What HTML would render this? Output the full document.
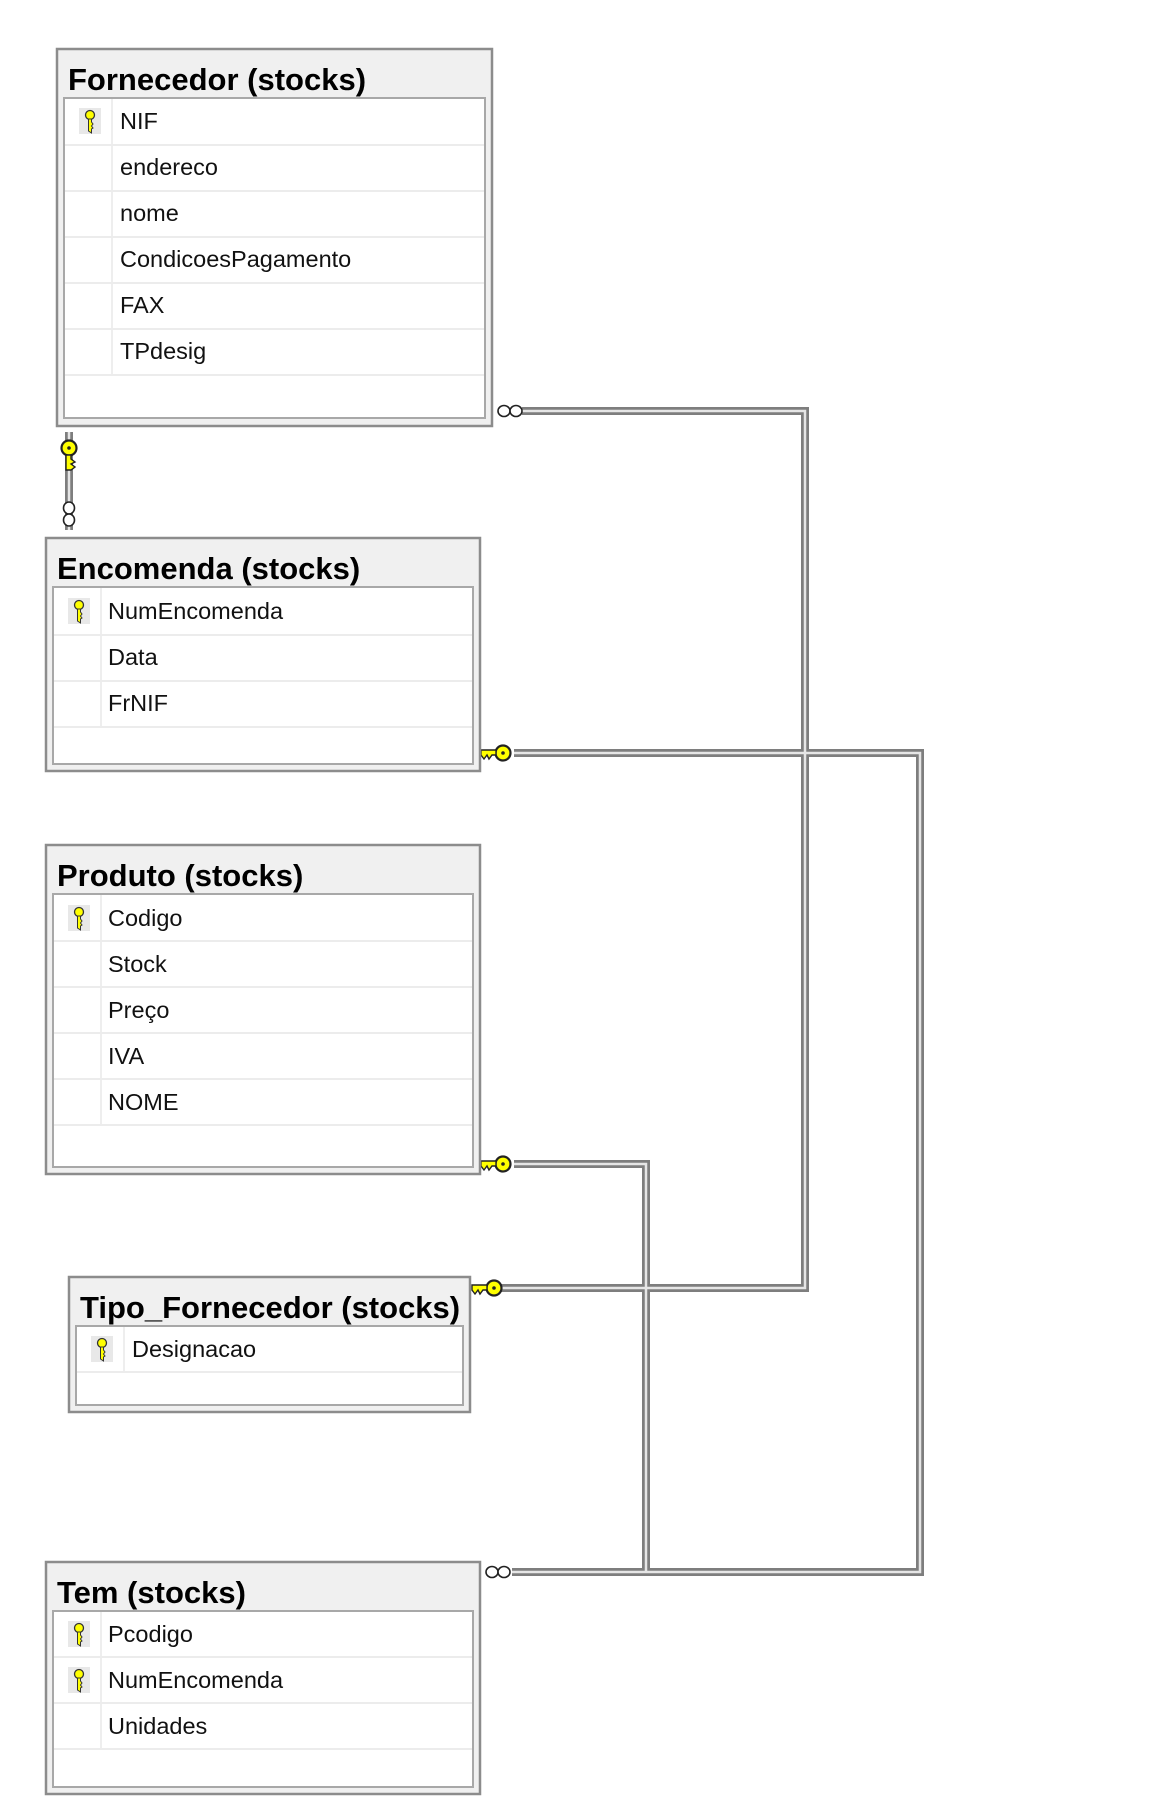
<!DOCTYPE html>
<html><head><meta charset="utf-8"><style>
html,body{margin:0;padding:0;background:#fff;}
svg{display:block;}
.t{font-family:"Liberation Sans",sans-serif;font-weight:bold;font-size:31px;fill:#000;}
.r{font-family:"Liberation Sans",sans-serif;font-size:23.5px;fill:#111;}
</style></head><body>
<svg width="1158" height="1798" viewBox="0 0 1158 1798" xmlns="http://www.w3.org/2000/svg">
<defs>
<g id="pk">
  <rect x="-11" y="-13" width="22" height="26" fill="#e8e8e8"/>
  <circle cx="0" cy="-6" r="4.5" fill="#ffff00" stroke="#333" stroke-width="1.3"/>
  <path d="M-1.5,-2 L-1.5,10 L1.5,12 L1.5,8 L3,7 L1.5,5 L3,3 L1.5,1 L1.5,-2Z" fill="#ffff00" stroke="#333" stroke-width="1"/>
</g>
<g id="hk">
  <circle cx="0" cy="0" r="7.5" fill="#ffff00" stroke="#222" stroke-width="2.2"/>
  <circle cx="0" cy="0" r="1.8" fill="#222"/>
  <path d="M-7,-3 L-22,-3 L-22,2 L-19,6 L-16,2 L-14,6 L-11,2 L-7,2Z" fill="#ffff00" stroke="#222" stroke-width="1.4"/>
</g>
<g id="inf">
  <ellipse cx="-6" cy="0" rx="6" ry="5.5" fill="#fff" stroke="#222" stroke-width="1.6"/>
  <ellipse cx="6" cy="0" rx="6" ry="5.5" fill="#fff" stroke="#222" stroke-width="1.6"/>
</g>
</defs>

<g fill="none" stroke-linejoin="miter">
  <g stroke="#7e7e7e" stroke-width="8">
    <polyline points="69,432 69,530"/>
    <polyline points="522,411 805,411 805,1288 500,1288"/>
    <polyline points="514,753 920,753 920,1572 512,1572"/>
    <polyline points="514,1164 646,1164 646,1572"/>
  </g>
  <g stroke="#e6e6e6" stroke-width="2.5">
    <polyline points="69,432 69,530"/>
    <polyline points="522,411 805,411 805,1288 500,1288"/>
    <polyline points="514,753 920,753 920,1572 512,1572"/>
    <polyline points="514,1164 646,1164 646,1572"/>
  </g>
</g>
<use href="#inf" x="510" y="411"/>
<use href="#inf" x="498" y="1572"/>
<g transform="translate(69,514) rotate(90)"><use href="#inf"/></g>
<g transform="translate(69,448) rotate(-90)"><use href="#hk"/></g>
<use href="#hk" x="503" y="753"/>
<use href="#hk" x="503" y="1164"/>
<use href="#hk" x="494" y="1288"/>

<!-- Fornecedor -->
<rect x="57" y="49" width="435" height="377" fill="#f0f0f0" stroke="#8c8c8c" stroke-width="2.5"/>
<rect x="64" y="98" width="421" height="320" fill="#fff" stroke="#a8a8a8" stroke-width="2"/>
<line x1="112" y1="99" x2="112" y2="375" stroke="#eee" stroke-width="2"/>
<g stroke="#ececec" stroke-width="2">
<line x1="65" y1="145" x2="484" y2="145"/><line x1="65" y1="191" x2="484" y2="191"/><line x1="65" y1="237" x2="484" y2="237"/><line x1="65" y1="283" x2="484" y2="283"/><line x1="65" y1="329" x2="484" y2="329"/><line x1="65" y1="375" x2="484" y2="375"/>
</g>
<text class="t" x="68" y="90">Fornecedor (stocks)</text>
<use href="#pk" x="90" y="121"/>
<text class="r" x="120" y="129">NIF</text>
<text class="r" x="120" y="175">endereco</text>
<text class="r" x="120" y="221">nome</text>
<text class="r" x="120" y="267">CondicoesPagamento</text>
<text class="r" x="120" y="313">FAX</text>
<text class="r" x="120" y="359">TPdesig</text>

<!-- Encomenda -->
<rect x="46" y="538" width="434" height="233" fill="#f0f0f0" stroke="#8c8c8c" stroke-width="2.5"/>
<rect x="53" y="587" width="420" height="177" fill="#fff" stroke="#a8a8a8" stroke-width="2"/>
<line x1="101" y1="588" x2="101" y2="727" stroke="#eee" stroke-width="2"/>
<g stroke="#ececec" stroke-width="2">
<line x1="54" y1="635" x2="472" y2="635"/><line x1="54" y1="681" x2="472" y2="681"/><line x1="54" y1="727" x2="472" y2="727"/>
</g>
<text class="t" x="57" y="579">Encomenda (stocks)</text>
<use href="#pk" x="79" y="611"/>
<text class="r" x="108" y="619">NumEncomenda</text>
<text class="r" x="108" y="665">Data</text>
<text class="r" x="108" y="711">FrNIF</text>

<!-- Produto -->
<rect x="46" y="845" width="434" height="329" fill="#f0f0f0" stroke="#8c8c8c" stroke-width="2.5"/>
<rect x="53" y="894" width="420" height="273" fill="#fff" stroke="#a8a8a8" stroke-width="2"/>
<line x1="101" y1="895" x2="101" y2="1125" stroke="#eee" stroke-width="2"/>
<g stroke="#ececec" stroke-width="2">
<line x1="54" y1="941" x2="472" y2="941"/><line x1="54" y1="987" x2="472" y2="987"/><line x1="54" y1="1033" x2="472" y2="1033"/><line x1="54" y1="1079" x2="472" y2="1079"/><line x1="54" y1="1125" x2="472" y2="1125"/>
</g>
<text class="t" x="57" y="886">Produto (stocks)</text>
<use href="#pk" x="79" y="918"/>
<text class="r" x="108" y="926">Codigo</text>
<text class="r" x="108" y="972">Stock</text>
<text class="r" x="108" y="1018">Preço</text>
<text class="r" x="108" y="1064">IVA</text>
<text class="r" x="108" y="1110">NOME</text>

<!-- Tipo_Fornecedor -->
<rect x="69" y="1277" width="401" height="135" fill="#f0f0f0" stroke="#8c8c8c" stroke-width="2.5"/>
<rect x="76" y="1326" width="387" height="79" fill="#fff" stroke="#a8a8a8" stroke-width="2"/>
<line x1="124" y1="1327" x2="124" y2="1372" stroke="#eee" stroke-width="2"/>
<line x1="77" y1="1372" x2="462" y2="1372" stroke="#ececec" stroke-width="2"/>
<text class="t" x="80" y="1318">Tipo_Fornecedor (stocks)</text>
<use href="#pk" x="102" y="1349"/>
<text class="r" x="132" y="1357">Designacao</text>

<!-- Tem -->
<rect x="46" y="1562" width="434" height="232" fill="#f0f0f0" stroke="#8c8c8c" stroke-width="2.5"/>
<rect x="53" y="1611" width="420" height="176" fill="#fff" stroke="#a8a8a8" stroke-width="2"/>
<line x1="101" y1="1612" x2="101" y2="1749" stroke="#eee" stroke-width="2"/>
<g stroke="#ececec" stroke-width="2">
<line x1="54" y1="1657" x2="472" y2="1657"/><line x1="54" y1="1703" x2="472" y2="1703"/><line x1="54" y1="1749" x2="472" y2="1749"/>
</g>
<text class="t" x="57" y="1603">Tem (stocks)</text>
<use href="#pk" x="79" y="1634"/>
<use href="#pk" x="79" y="1680"/>
<text class="r" x="108" y="1642">Pcodigo</text>
<text class="r" x="108" y="1688">NumEncomenda</text>
<text class="r" x="108" y="1734">Unidades</text>
</svg>
</body></html>
